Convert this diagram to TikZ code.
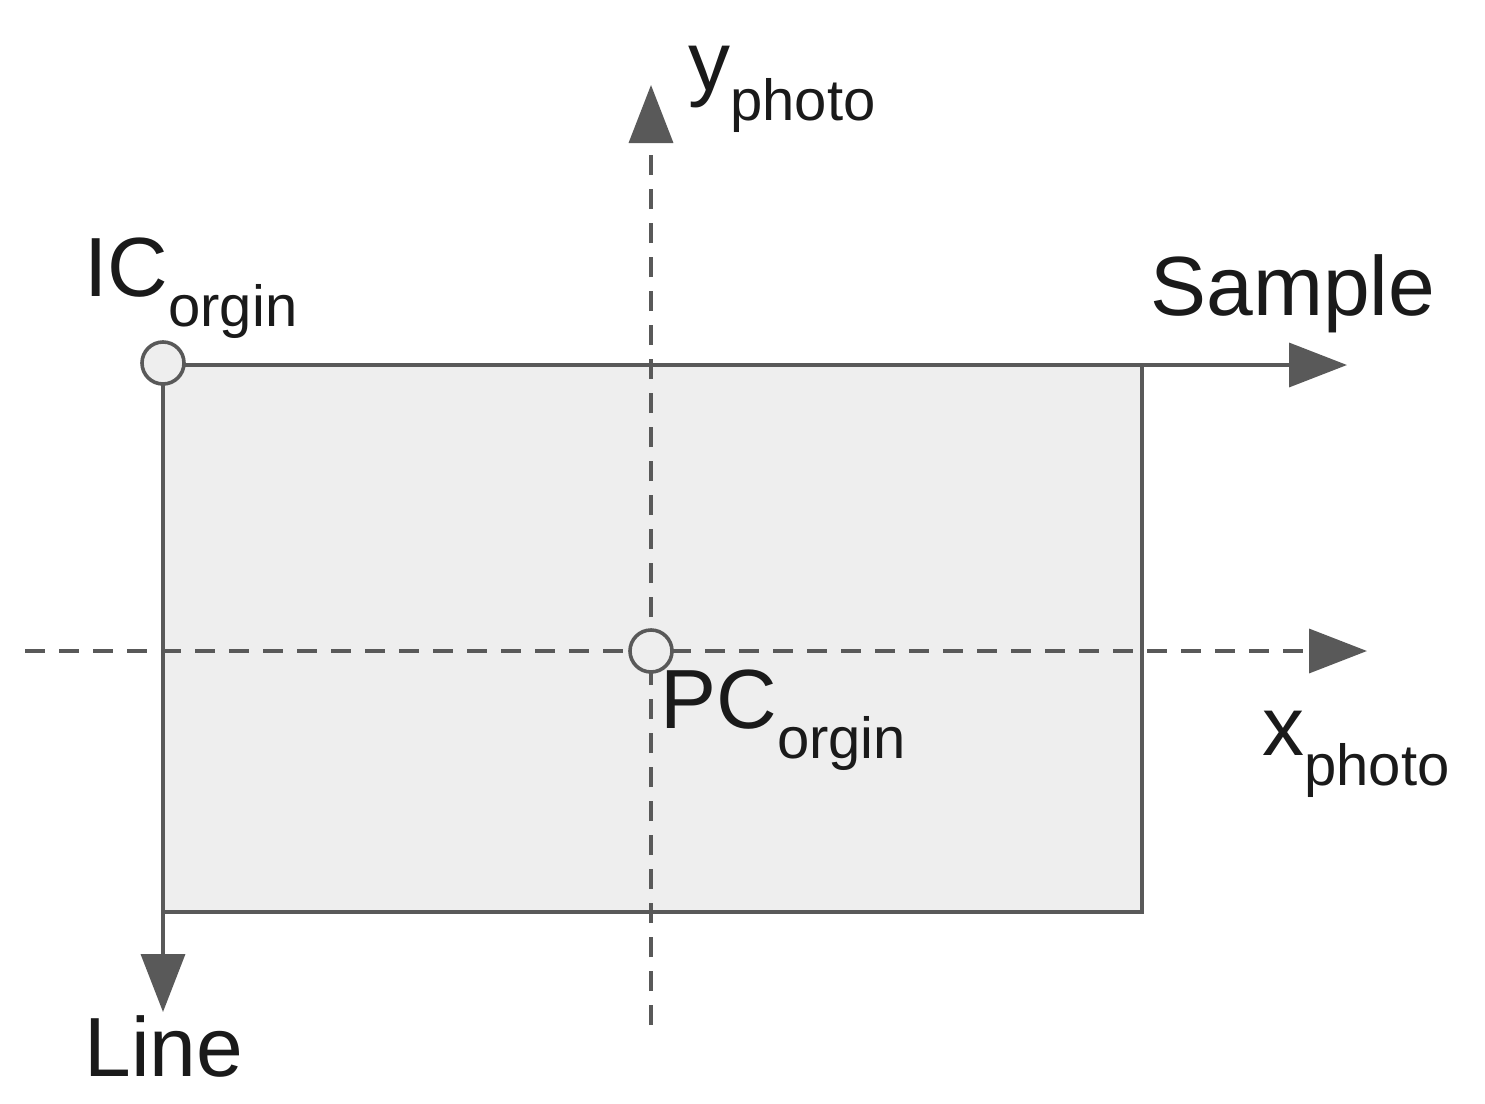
\documentclass[tikz,border=0pt]{standalone}
\usepackage{fontspec}
\setmainfont{Liberation Sans}
\usetikzlibrary{arrows.meta}
\definecolor{ln}{HTML}{595959}
\definecolor{fl}{HTML}{EEEEEE}
\definecolor{tx}{HTML}{1A1A1A}
\newcommand{\sbs}[1]{{\fontsize{29}{29}\selectfont\raisebox{-15pt}{#1}}}
\begin{document}
\begin{tikzpicture}[x=0.5pt,y=-0.5pt,
  axis/.style={draw=ln,line width=1.8pt,-{Triangle[length=29pt,width=22pt]}},
  dax/.style={axis,dash pattern=on 10pt off 7pt},
  org/.style={circle,draw=ln,fill=fl,line width=1.8pt,minimum size=21pt,inner sep=0pt},
  lbl/.style={text=tx,inner sep=0pt,font=\fontsize{42}{42}\selectfont}]
\useasboundingbox (0,0) rectangle (1485,1104);
\coordinate (tl) at (163,365);
\coordinate (br) at (1142,912);
\coordinate (sx) at (1347,365);
\coordinate (ly) at (163,1012);
\coordinate (vt) at (651,85);
\coordinate (vb) at (651,1025);
\coordinate (hl) at (25,651);
\coordinate (hr) at (1367,651);
\draw[fill=fl,draw=ln,line width=1.8pt] (tl) rectangle (br);
\draw[dax] (vb) -- (vt);
\draw[dax] (hl) -- (hr);
\draw[axis] (tl) -- (sx);
\draw[axis] (tl) -- (ly);
\node[org] (ic) at (163,363) {};
\node[org] (pc) at (651,651) {};
\node[lbl,anchor=base west] (yl) at (688,90) {y\sbs{photo}};
\node[lbl,anchor=base west] (icl) at (84,296) {IC\sbs{orgin}};
\node[lbl,anchor=base west] (sl) at (1150,315) {Sample};
\node[lbl,anchor=base west] (pcl) at (660,728) {PC\sbs{orgin}};
\node[lbl,anchor=base west] (xl) at (1262,755) {x\sbs{photo}};
\node[lbl,anchor=base west] (ll) at (84,1076) {Line};
\end{tikzpicture}
\end{document}
